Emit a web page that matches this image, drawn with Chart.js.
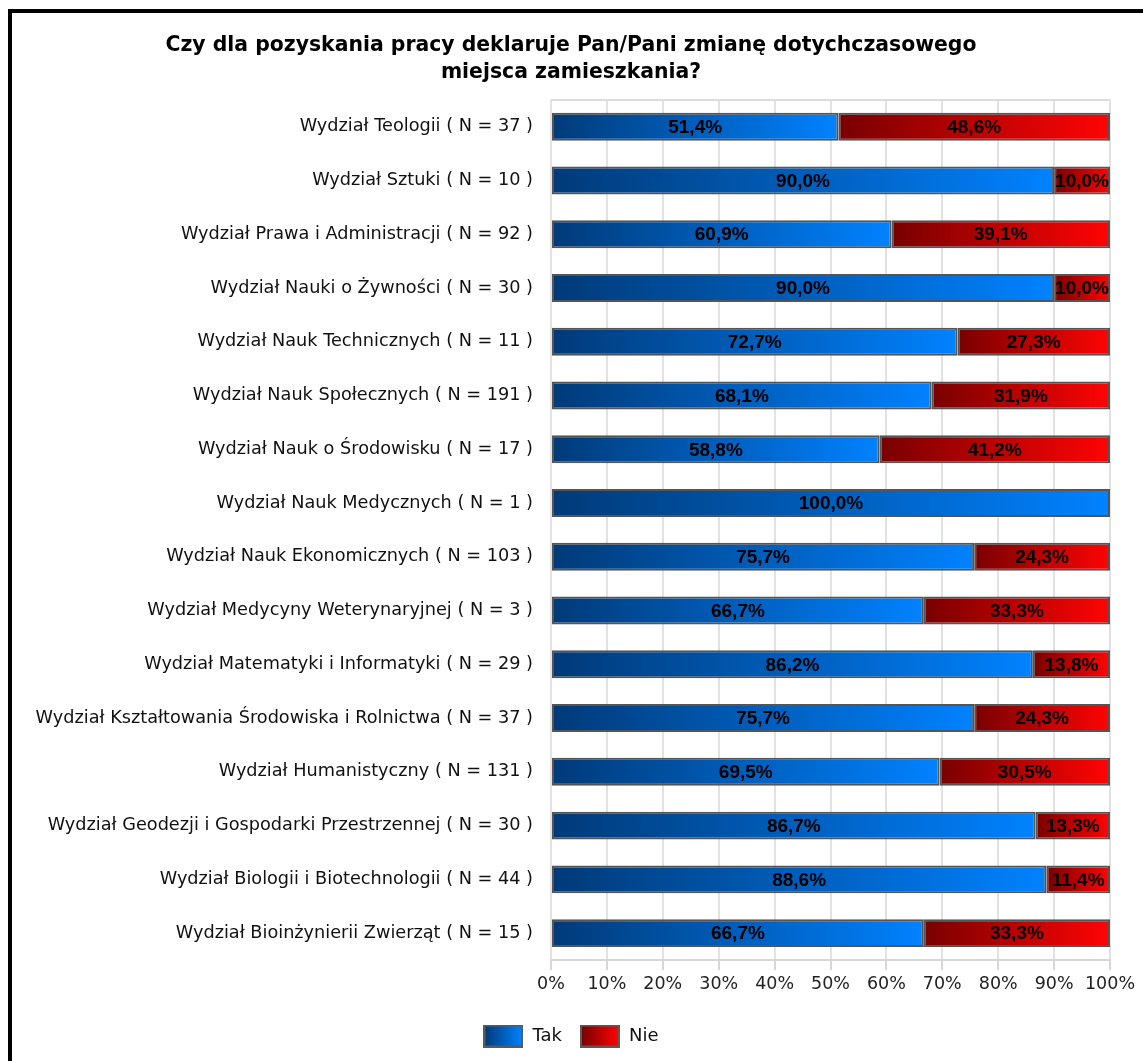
<!DOCTYPE html>
<html>
<head>
<meta charset="utf-8">
<script src="https://cdn.jsdelivr.net/npm/chart.js@4/dist/chart.umd.min.js"></script>
<style>
  html, body { margin: 0; padding: 0; background: #fff; }
  #wrap { position: relative; width: 1143px; height: 1061px; overflow: hidden; }
  #c { position: absolute; left: 0; top: 0; }
  #frame { position: absolute; left: 8px; top: 9px; width: 2000px; height: 2000px;
           border-left: 4px solid #000; border-top: 4px solid #000; pointer-events: none; }
</style>
</head>
<body>
<div id="wrap">
  <canvas id="c" width="1143" height="1061"></canvas>
  <div id="frame"></div>
</div>
<script>
const titleLines = ['Czy dla pozyskania pracy deklaruje Pan/Pani zmianę dotychczasowego', 'miejsca zamieszkania?'];
const categories = [
  'Wydział Teologii ( N = 37 )',
  'Wydział Sztuki ( N = 10 )',
  'Wydział Prawa i Administracji ( N = 92 )',
  'Wydział Nauki o Żywności ( N = 30 )',
  'Wydział Nauk Technicznych ( N = 11 )',
  'Wydział Nauk Społecznych ( N = 191 )',
  'Wydział Nauk o Środowisku ( N = 17 )',
  'Wydział Nauk Medycznych ( N = 1 )',
  'Wydział Nauk Ekonomicznych ( N = 103 )',
  'Wydział Medycyny Weterynaryjnej ( N = 3 )',
  'Wydział Matematyki i Informatyki ( N = 29 )',
  'Wydział Kształtowania Środowiska i Rolnictwa ( N = 37 )',
  'Wydział Humanistyczny ( N = 131 )',
  'Wydział Geodezji i Gospodarki Przestrzennej ( N = 30 )',
  'Wydział Biologii i Biotechnologii ( N = 44 )',
  'Wydział Bioinżynierii Zwierząt ( N = 15 )'
];
const takValues = [51.4, 90.0, 60.9, 90.0, 72.7, 68.1, 58.8, 100.0, 75.7, 66.7, 86.2, 75.7, 69.5, 86.7, 88.6, 66.7];
const nieValues = [48.6, 10.0, 39.1, 10.0, 27.3, 31.9, 41.2, 0.0, 24.3, 33.3, 13.8, 24.3, 30.5, 13.3, 11.4, 33.3];
const seriesNames = ['Tak', 'Nie'];
const tickValues = [0, 10, 20, 30, 40, 50, 60, 70, 80, 90, 100];

const BLUE_DARK = '#003a78', BLUE_LIGHT = '#0082ff';
const RED_DARK = '#780000', RED_LIGHT = '#ff0404';
const FONT = '"DejaVu Sans", Verdana, sans-serif';
const LEFT_PAD = 32;

function segGradient(ctx, dark, light, stackedBefore) {
  const chart = ctx.chart;
  const xs = chart.scales && chart.scales.x;
  if (ctx.type !== 'data' || !xs || !chart.chartArea) return light;
  const i = ctx.dataIndex;
  const start = stackedBefore ? takValues[i] : 0;
  const end = stackedBefore ? 100 : takValues[i];
  const x0 = xs.getPixelForValue(start), x1 = xs.getPixelForValue(end);
  if (!isFinite(x0) || !isFinite(x1) || x1 - x0 < 0.5) return light;
  const g = chart.ctx.createLinearGradient(x0, 0, x1, 0);
  g.addColorStop(0, dark);
  g.addColorStop(1, light);
  return g;
}

function legendImage(dark, light) {
  const cv = document.createElement('canvas');
  cv.width = 40; cv.height = 23;
  const c = cv.getContext('2d');
  const g = c.createLinearGradient(1, 0, 39, 0);
  g.addColorStop(0, dark); g.addColorStop(1, light);
  c.fillStyle = g;
  c.fillRect(1, 1, 38, 21);
  c.strokeStyle = '#5a5a5a';
  c.lineWidth = 2;
  c.strokeRect(1, 1, 38, 21);
  return cv;
}
const legendImgs = [legendImage(BLUE_DARK, BLUE_LIGHT), legendImage(RED_DARK, RED_LIGHT)];

const valueLabels = {
  id: 'valueLabels',
  afterDatasetsDraw(chart) {
    const ctx = chart.ctx;
    ctx.save();
    ctx.font = 'bold 19px "Liberation Sans", Arial, sans-serif';
    ctx.fillStyle = '#000';
    ctx.textAlign = 'center';
    ctx.textBaseline = 'middle';
    chart.data.datasets.forEach((ds, di) => {
      const meta = chart.getDatasetMeta(di);
      meta.data.forEach((el, i) => {
        const v = ds.data[i];
        if (!v) return;
        const p = el.getProps(['x', 'y', 'base'], true);
        ctx.fillText(v.toFixed(1).replace('.', ',') + '%', (p.x + p.base) / 2, p.y + 1);
      });
    });
    ctx.restore();
  }
};

const nCat = categories.length;

new Chart(document.getElementById('c'), {
  type: 'bar',
  data: {
    labels: categories,
    datasets: [
      { label: seriesNames[0], data: takValues,
        backgroundColor: (ctx) => segGradient(ctx, BLUE_DARK, BLUE_LIGHT, false),
        borderColor: '#555', borderWidth: 2, borderSkipped: false,
        barPercentage: 0.52, categoryPercentage: 1 },
      { label: seriesNames[1], data: nieValues,
        backgroundColor: (ctx) => segGradient(ctx, RED_DARK, RED_LIGHT, true),
        borderColor: '#555', borderWidth: 2, borderSkipped: false,
        barPercentage: 0.52, categoryPercentage: 1 }
    ]
  },
  options: {
    indexAxis: 'y',
    responsive: false,
    animation: false,
    devicePixelRatio: 1,
    layout: { padding: { left: LEFT_PAD, right: 33, top: 0, bottom: 6 } },
    scales: {
      x: {
        stacked: true, min: 0, max: 100,
        afterBuildTicks: (scale) => { scale.ticks = tickValues.map(v => ({ value: v })); },
        afterFit: (scale) => { scale.height += 10; },
        ticks: { color: '#222', font: { size: 17.5, family: FONT },
                 padding: 4, maxRotation: 0, callback: (v) => v + '%' },
        grid: { color: '#e2e2e2', lineWidth: 2, tickLength: 10, tickColor: '#d8d8d8' },
        border: { display: true, color: '#d6d6d6', width: 2 }
      },
      y: {
        stacked: true,
        afterFit: (scale) => { scale.width = 551 - LEFT_PAD; },
        ticks: { color: '#111', font: { size: 17.7, family: FONT }, padding: 18 },
        grid: { offset: true, drawTicks: false, lineWidth: 2,
                color: (ctx) => (ctx.index === 0 || ctx.index === nCat) ? '#dcdcdc' : 'rgba(0,0,0,0)' },
        border: { display: false }
      }
    },
    plugins: {
      title: {
        display: true, text: titleLines, color: '#000',
        font: { size: 20.4, weight: 'bold', family: FONT, lineHeight: 1.32 },
        padding: { top: 32, bottom: 14 }
      },
      legend: {
        display: true, position: 'bottom',
        labels: {
          color: '#111', font: { size: 18, family: FONT },
          usePointStyle: true, pointStyleWidth: 40, padding: 18,
          generateLabels: (chart) => seriesNames.map((n, i) => ({
            text: n, pointStyle: legendImgs[i], fillStyle: 'transparent', strokeStyle: 'transparent',
            lineWidth: 0, hidden: false, datasetIndex: i, fontColor: '#111'
          }))
        }
      },
      tooltip: { enabled: false }
    }
  },
  plugins: [valueLabels]
});
</script>
</body>
</html>
